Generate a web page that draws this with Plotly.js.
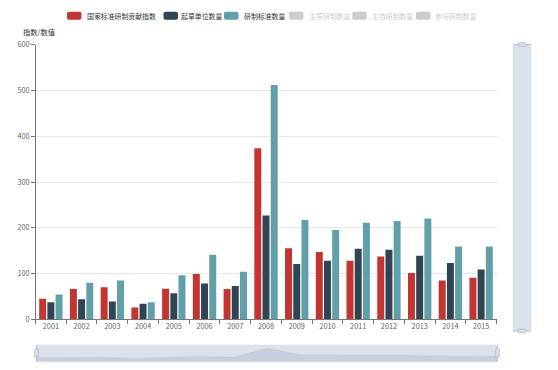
<!DOCTYPE html>
<html>
<head>
<meta charset="utf-8">
<script src="https://cdn.plot.ly/plotly-3.0.1.min.js"></script>
<style>html,body{margin:0;padding:0;background:#fff;}#chart{width:558px;height:370px;}</style>
</head>
<body>
<div id="chart"></div>
<script>
// ---- data ----
const years = ['2001','2002','2003','2004','2005','2006','2007','2008','2009','2010','2011','2012','2013','2014','2015'];
const contribIndex = [45, 66, 70, 26, 67, 99, 66, 374, 155, 147, 128, 137, 101, 85, 91];
const draftUnits   = [37, 44, 39, 34, 57, 78, 73, 227, 121, 128, 154, 152, 139, 123, 109];
const standards    = [54, 80, 85, 37, 96, 141, 104, 512, 217, 195, 211, 215, 220, 159, 159];
const seriesNames  = ['国家标准研制贡献指数','起草单位数量','研制标准数量','主导研制数量','主持研制数量','参与研制数量'];
const seriesActive = [true, true, true, false, false, false];
const yTitle = '指数/数值';

// ---- style ----
const colors = ['#c23531','#2f4554','#61a0a8','#d48265','#91c7ae','#749f83'];
const W = 558, H = 370;
const px = x => x / W;
const py = y => 1 - y / H;
const FONT = '"Noto Sans CJK SC", "Microsoft YaHei", sans-serif';
const FS = 7.3;
const LFS = 6.9;

const barData = [contribIndex, draftUnits, standards];
const traces = barData.map((vals, i) => ({
  type: 'bar', x: years, y: vals, name: seriesNames[i],
  marker: {color: colors[i]}, xaxis: 'x', yaxis: 'y', showlegend: false,
  hoverinfo: 'x+y+name'
}));

// dataZoom shadow from first series
const lo0 = Math.min(...contribIndex), hi0 = Math.max(...contribIndex);
const off = (hi0 - lo0) * 0.3;
const lo = lo0 - off, hi = hi0 + off;
traces.push({
  type: 'scatter', mode: 'lines', x: years.map((_, i) => i), y: contribIndex.map(v => v - lo),
  xaxis: 'x2', yaxis: 'y2', fill: 'tozeroy', fillcolor: 'rgba(47,69,84,0.16)',
  line: {color: 'rgba(47,69,84,0.2)', width: 0.5}, showlegend: false, hoverinfo: 'skip'
});

// legend (manual, ECharts style)
const legendIconX = [67, 163.5, 224, 289, 352.3, 416];
const legendTextX = [85, 178.5, 241.5, 306.5, 370, 433.3];
const shapes = [];
const annotations = [];
seriesNames.forEach((n, i) => {
  const x0 = legendIconX[i], x1 = x0 + 14.5, y0 = 11.8, y1 = 19.8, r = 2;
  const c = seriesActive[i] ? colors[i] : '#ccc';
  shapes.push({type: 'path', xref: 'paper', yref: 'paper',
    path: `M ${px(x0+r)} ${py(y0)} L ${px(x1-r)} ${py(y0)} Q ${px(x1)} ${py(y0)} ${px(x1)} ${py(y0+r)} L ${px(x1)} ${py(y1-r)} Q ${px(x1)} ${py(y1)} ${px(x1-r)} ${py(y1)} L ${px(x0+r)} ${py(y1)} Q ${px(x0)} ${py(y1)} ${px(x0)} ${py(y1-r)} L ${px(x0)} ${py(y0+r)} Q ${px(x0)} ${py(y0)} ${px(x0+r)} ${py(y0)} Z`,
    fillcolor: c, line: {width: 0}});
  annotations.push({xref: 'paper', yref: 'paper', x: px(legendTextX[i]), y: py(15.8),
    xanchor: 'left', yanchor: 'middle', showarrow: false, text: n,
    font: {family: FONT, size: LFS, color: seriesActive[i] ? '#333' : '#ccc'}});
});
annotations.push({xref: 'paper', yref: 'paper', x: px(20.5), y: py(31.5), xanchor: 'left', yanchor: 'middle',
  showarrow: false, text: yTitle, font: {family: FONT, size: FS, color: '#333'}});

// bottom slider
const sb = {x0: 36.5, x1: 497.5, y0: 345, y1: 361.7};
shapes.push({type: 'rect', xref: 'paper', yref: 'paper', layer: 'above',
  x0: px(sb.x0), x1: px(sb.x1), y0: py(sb.y1), y1: py(sb.y0),
  fillcolor: 'rgba(167,183,204,0.4)', line: {color: '#ddd', width: 0.6}});
[sb.x0, sb.x1].forEach(hx => {
  shapes.push({type: 'line', xref: 'paper', yref: 'paper', layer: 'above',
    x0: px(hx), x1: px(hx), y0: py(sb.y1), y1: py(sb.y0), line: {color: '#a7b7cc', width: 0.8}});
  shapes.push({type: 'rect', xref: 'paper', yref: 'paper', layer: 'above',
    x0: px(hx - 1.7), x1: px(hx + 1.7), y0: py(357), y1: py(349),
    fillcolor: '#dde3ee', line: {color: '#a7b7cc', width: 0.8}});
});
// right vertical slider
const sv = {x0: 513, x1: 531, y0: 44.5, y1: 331};
shapes.push({type: 'rect', xref: 'paper', yref: 'paper', layer: 'above',
  x0: px(sv.x0), x1: px(sv.x1), y0: py(sv.y1), y1: py(sv.y0),
  fillcolor: 'rgba(167,183,204,0.4)', line: {color: '#ddd', width: 0.6}});
[sv.y0, sv.y1].forEach(hy => {
  shapes.push({type: 'line', xref: 'paper', yref: 'paper', layer: 'above',
    x0: px(sv.x0), x1: px(sv.x1), y0: py(hy), y1: py(hy), line: {color: '#a7b7cc', width: 0.8}});
  shapes.push({type: 'rect', xref: 'paper', yref: 'paper', layer: 'above',
    x0: px(518.3), x1: px(525.7), y0: py(hy + 1.7), y1: py(hy - 1.7),
    fillcolor: '#dde3ee', line: {color: '#a7b7cc', width: 0.8}});
});

const layout = {
  width: W, height: H, margin: {l: 0, r: 0, t: 0, b: 0},
  paper_bgcolor: '#fff', plot_bgcolor: '#fff', showlegend: false,
  font: {family: FONT, size: FS, color: '#666'},
  barmode: 'group', bargap: 0.2, bargroupgap: 0.15,
  xaxis: {domain: [px(35.5), px(496.5)], type: 'category', showline: true, linecolor: '#777', linewidth: 1,
    ticks: 'outside', tickson: 'boundaries', ticklen: 3.5, tickcolor: '#777', tickwidth: 1,
    tickfont: {family: FONT, size: FS, color: '#666'}, showgrid: false, zeroline: false, fixedrange: true},
  yaxis: {domain: [py(319.3), py(44.7)], range: [0, 600], dtick: 100, tick0: 0,
    showline: true, linecolor: '#777', linewidth: 1, ticks: 'outside', ticklen: 3.5, tickcolor: '#777',
    tickfont: {family: FONT, size: FS, color: '#666'}, gridcolor: '#e6e6e6', gridwidth: 1, zeroline: false, fixedrange: true},
  xaxis2: {domain: [px(sb.x0), px(sb.x1)], range: [0, years.length - 1], visible: false, anchor: 'y2', fixedrange: true},
  yaxis2: {domain: [py(sb.y1), py(sb.y0)], range: [0, hi - lo], visible: false, anchor: 'x2', fixedrange: true},
  shapes: shapes, annotations: annotations
};

Plotly.newPlot('chart', traces, layout, {displayModeBar: false, staticPlot: true});
</script>
</body>
</html>
